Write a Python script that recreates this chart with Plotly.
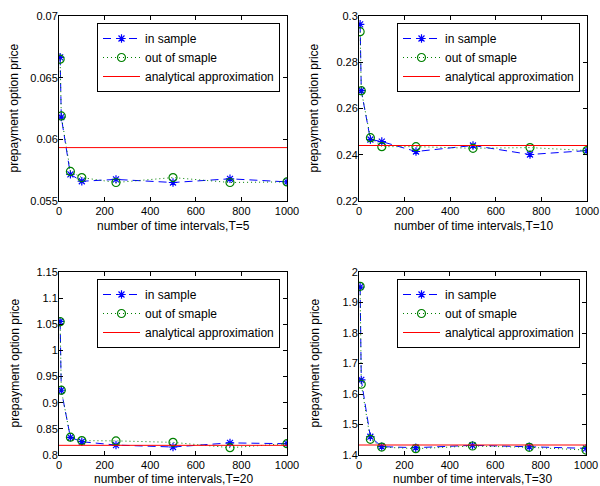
import plotly.graph_objects as go

# ---- data ----
x_intervals = [5, 10, 50, 100, 250, 500, 750, 1000]

in_T5 = [0.06665, 0.0618, 0.05716, 0.0566, 0.05675, 0.0565, 0.0568, 0.05655]
out_T5 = [0.0665, 0.0619, 0.0574, 0.0569, 0.0565, 0.0569, 0.0565, 0.05655]
approx_T5 = 0.05933

in_T10 = [0.2964, 0.2677, 0.2466, 0.2457, 0.2414, 0.2440, 0.2401, 0.2418]
out_T10 = [0.2932, 0.2677, 0.2474, 0.2435, 0.2435, 0.2428, 0.2431, 0.2418]
approx_T10 = 0.2440

in_T20 = [1.0554, 0.9238, 0.8337, 0.8254, 0.8190, 0.8153, 0.8232, 0.8216]
out_T20 = [1.055, 0.924, 0.834, 0.8275, 0.827, 0.8242, 0.814, 0.8217]
approx_T20 = 0.8185

in_T30 = [1.9507, 1.6463, 1.460, 1.4273, 1.424, 1.4317, 1.427, 1.4218]
out_T30 = [1.953, 1.632, 1.4515, 1.426, 1.4207, 1.4295, 1.4252, 1.4163]
approx_T30 = 1.4328

T_labels = ["T=5", "T=10", "T=20", "T=30"]

x_ticks = [0, 200, 400, 600, 800, 1000]
x_ticktext = ["0", "200", "400", "600", "800", "1000"]

y_ticks_T5 = [0.055, 0.06, 0.065, 0.07]
y_ticktext_T5 = ["0.055", "0.06", "0.065", "0.07"]
y_ticks_T10 = [0.22, 0.24, 0.26, 0.28, 0.3]
y_ticktext_T10 = ["0.22", "0.24", "0.26", "0.28", "0.3"]
y_ticks_T20 = [0.8, 0.85, 0.9, 0.95, 1.0, 1.05, 1.1, 1.15]
y_ticktext_T20 = ["0.8", "0.85", "0.9", "0.95", "1", "1.05", "1.1", "1.15"]
y_ticks_T30 = [1.4, 1.5, 1.6, 1.7, 1.8, 1.9, 2.0]
y_ticktext_T30 = ["1.4", "1.5", "1.6", "1.7", "1.8", "1.9", "2"]

series_names = ["in sample", "out of smaple", "analytical approximation"]
x_title = "number of time intervals,"
y_title = "prepayment option price"

# ---- layout geometry (page pixels) ----
W, H = 600, 486
panels = [
    dict(inn=in_T5, out=out_T5, ap=approx_T5, yt=y_ticks_T5, ytt=y_ticktext_T5,
         x0=59, x1=287, y0=16, y1=201, xt=226),
    dict(inn=in_T10, out=out_T10, ap=approx_T10, yt=y_ticks_T10, ytt=y_ticktext_T10,
         x0=359, x1=587, y0=16, y1=201, xt=226),
    dict(inn=in_T20, out=out_T20, ap=approx_T20, yt=y_ticks_T20, ytt=y_ticktext_T20,
         x0=59, x1=287, y0=272, y1=455, xt=479),
    dict(inn=in_T30, out=out_T30, ap=approx_T30, yt=y_ticks_T30, ytt=y_ticktext_T30,
         x0=359, x1=586, y0=272, y1=455, xt=479),
]


def px(v):
    return v / W


def py(v):
    return 1 - v / H


FONT = "Liberation Sans, Arial, sans-serif"
fig = go.Figure()
layout = dict(
    width=W, height=H, margin=dict(l=0, r=0, t=0, b=0, autoexpand=False),
    paper_bgcolor="white", plot_bgcolor="white",
    font=dict(family=FONT, size=11, color="black"),
    annotations=[],
)

for i, p in enumerate(panels):
    n = i + 1
    xa = "x" if n == 1 else f"x{n}"
    ya = "y" if n == 1 else f"y{n}"
    lg = "legend" if n == 1 else f"legend{n}"
    fig.add_trace(go.Scatter(
        x=x_intervals, y=p["inn"], mode="lines+markers", name=series_names[0],
        line=dict(color="rgb(0,0,255)", width=1, dash="8px,5px"),
        marker=dict(symbol="asterisk-open", size=7, color="rgb(0,0,255)",
                    line=dict(color="rgb(0,0,255)", width=1.2)),
        xaxis=xa, yaxis=ya, legend=lg))
    fig.add_trace(go.Scatter(
        x=x_intervals, y=p["out"], mode="lines+markers", name=series_names[1],
        line=dict(color="rgb(0,128,0)", width=1, dash="1px,3px"),
        marker=dict(symbol="circle-open", size=8, color="rgb(0,128,0)",
                    line=dict(color="rgb(0,128,0)", width=1.2)),
        xaxis=xa, yaxis=ya, legend=lg))
    fig.add_trace(go.Scatter(
        x=[0, 1000], y=[p["ap"], p["ap"]], mode="lines", name=series_names[2],
        line=dict(color="rgb(255,0,0)", width=1),
        xaxis=xa, yaxis=ya, legend=lg))

    axis_common = dict(
        showline=True, linecolor="black", linewidth=1, mirror="ticks",
        ticks="inside", ticklen=4, tickcolor="black", showgrid=False,
        zeroline=False, tickfont=dict(size=11, family=FONT), automargin=False,
    )
    layout["xaxis" if n == 1 else f"xaxis{n}"] = dict(
        domain=[px(p["x0"]), px(p["x1"])], anchor=ya, range=[0, 1000],
        tickvals=x_ticks, ticktext=x_ticktext,
        **axis_common)
    layout["yaxis" if n == 1 else f"yaxis{n}"] = dict(
        domain=[py(p["y1"]), py(p["y0"])], anchor=xa,
        range=[p["yt"][0], p["yt"][-1]],
        tickvals=p["yt"], ticktext=p["ytt"], ticklabelstandoff=-2,
        **axis_common)
    layout[lg] = dict(
        x=px(p["x0"] + 38), y=py(p["y0"] + 7),
        xanchor="left", yanchor="top", xref="paper", yref="paper",
        bgcolor="white", bordercolor="black", borderwidth=1,
        font=dict(size=12, family=FONT), tracegroupgap=0,
        itemwidth=37,
    )
    # axis titles
    layout["annotations"].append(dict(
        text=x_title + T_labels[i], xref="paper", yref="paper",
        x=px((p["x0"] + p["x1"]) / 2), y=py(p["xt"]),
        xanchor="center", yanchor="middle", showarrow=False,
        font=dict(size=12, family=FONT, color="black")))
    layout["annotations"].append(dict(
        text=y_title, xref="paper", yref="paper", textangle=-90,
        x=px(p["x0"] - 45), y=py((p["y0"] + p["y1"]) / 2),
        xanchor="center", yanchor="middle", showarrow=False,
        font=dict(size=12, family=FONT, color="black")))

fig.update_layout(**layout)
fig.write_html("out.html", config={"displayModeBar": False},
               post_script="document.body.style.margin='0px';")
